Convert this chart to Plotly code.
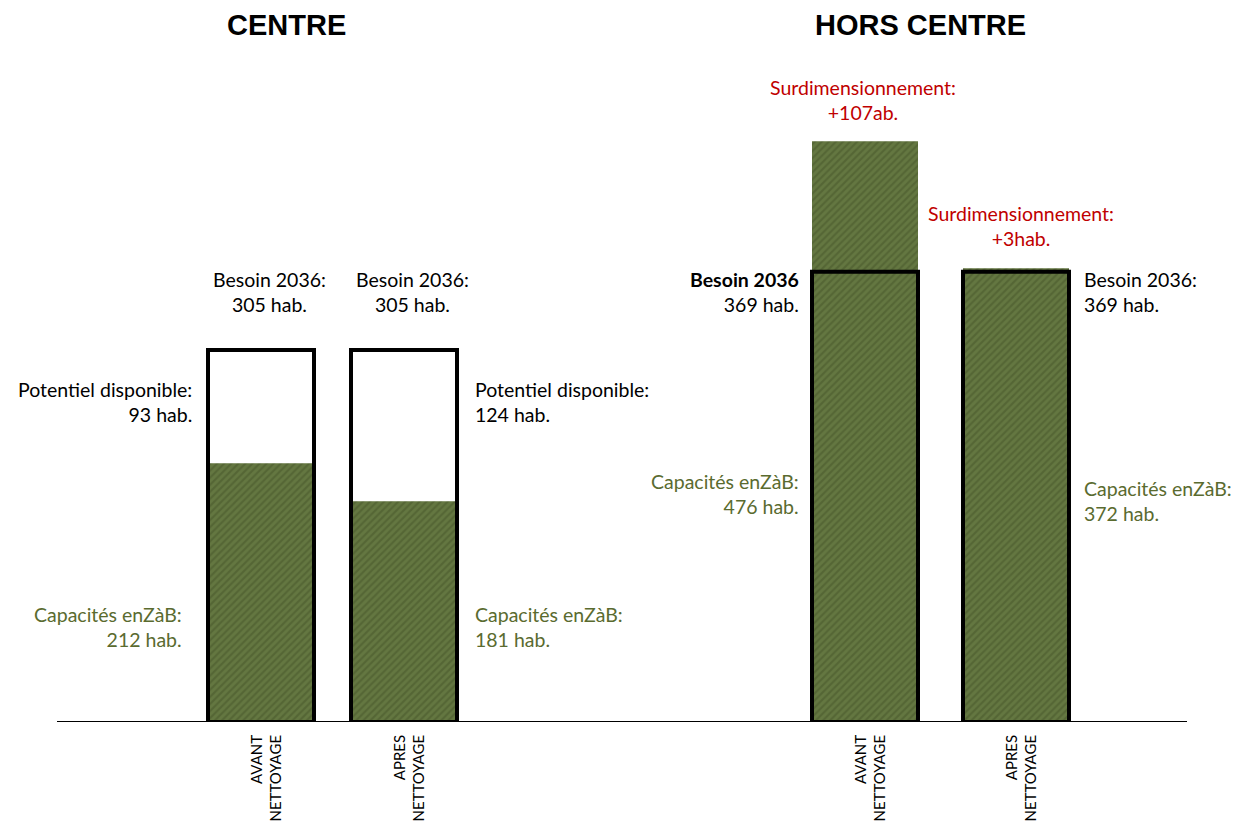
import plotly.graph_objects as go

# ---- data ----
categories = ["AVANT<br>NETTOYAGE", "APRES<br>NETTOYAGE", "AVANT<br>NETTOYAGE", "APRES<br>NETTOYAGE"]
groups = ["CENTRE", "CENTRE", "HORS CENTRE", "HORS CENTRE"]
capacites = [212, 181, 476, 372]
besoin = [305, 305, 369, 369]
potentiel = [93, 124]          # centre: besoin - capacités
surdim = [107, 3]              # hors centre: capacités - besoin

# ---- layout constants (pixel-like x scale, 1 unit = 1 px of the page) ----
W, H = 1242, 822
OFF = 8                # page body margin
x_pos = [261, 404, 865, 1016]
bar_w = 106
axis_px = 722          # page pixel row of the baseline
px_per_unit = 1.22
y_top = (axis_px - OFF) / px_per_unit

def yd(p):
    """page pixel row -> data y"""
    return (axis_px - p) / px_per_unit

GREEN_TXT = "#5a6b2f"
RED = "#c00000"
FONT = "Lato"
FS = 19.5

fig = go.Figure()
fig.add_trace(go.Bar(
    x=x_pos, y=capacites, width=bar_w,
    marker=dict(color="#627540",
                pattern=dict(shape="/", fgcolor="#46562a", bgcolor="#647741",
                             size=5, solidity=0.45),
                line=dict(width=0)),
    hoverinfo="skip", showlegend=False))
fig.add_trace(go.Bar(
    x=x_pos, y=besoin, width=bar_w,
    marker=dict(color="rgba(0,0,0,0)", line=dict(color="black", width=4)),
    hoverinfo="skip", showlegend=False))

fig.add_shape(type="line", xref="x", yref="y", x0=57, x1=1187, y0=0, y1=0,
              line=dict(color="black", width=2))

ann = []
def add(text, x, p, xanchor="center", align="center", color="black", size=FS):
    ann.append(dict(text=text, x=x, y=yd(p), xref="x", yref="y",
                    xanchor=xanchor, yanchor="middle", align=align,
                    showarrow=False, font=dict(family=FONT, size=size, color=color)))

# titles
ann.append(dict(text="<b>CENTRE</b>", x=286, y=yd(25), xref="x", yref="y",
                showarrow=False, font=dict(family="Liberation Sans", size=29, color="black")))
ann.append(dict(text="<b>HORS CENTRE</b>", x=920, y=yd(25), xref="x", yref="y",
                showarrow=False, font=dict(family="Liberation Sans", size=29, color="black")))

# centre labels
add(f"Besoin 2036:<br>{besoin[0]} hab.", 269, 292)
add(f"Besoin 2036:<br>{besoin[1]} hab.", 412, 292)
add(f"Potentiel disponible:<br>{potentiel[0]} hab.", 194, 402, xanchor="right", align="right")
add(f"Potentiel disponible:<br>{potentiel[1]} hab.", 473, 402, xanchor="left", align="left")
add(f"Capacités enZàB:<br>{capacites[0]} hab.", 184, 627, xanchor="right", align="right", color=GREEN_TXT)
add(f"Capacités enZàB:<br>{capacites[1]} hab.", 473, 627, xanchor="left", align="left", color=GREEN_TXT)

# hors centre labels
add(f"Surdimensionnement:<br>+{surdim[0]}ab.", 863, 100, color=RED)
add(f"Surdimensionnement:<br>+{surdim[1]}hab.", 1021, 226, color=RED)
add(f"<b>Besoin 2036</b><br>{besoin[2]} hab.", 801, 292, xanchor="right", align="right")
add(f"Besoin 2036:<br>{besoin[3]} hab.", 1082, 292, xanchor="left", align="left")
add(f"Capacités enZàB:<br>{capacites[2]} hab.", 801, 494, xanchor="right", align="right", color=GREEN_TXT)
add(f"Capacités enZàB:<br>{capacites[3]} hab.", 1082, 501, xanchor="left", align="left", color=GREEN_TXT)

# rotated category labels
for xp, cat in zip(x_pos, categories):
    ann.append(dict(text=cat, x=xp + 4, y=0, xref="x", yref="y",
                    xanchor="center", yanchor="top", yshift=-11, textangle=-90,
                    align="right", showarrow=False,
                    font=dict(family=FONT, size=15, color="black")))

fig.update_layout(
    width=W, height=H,
    margin=dict(l=0, r=0, t=0, b=H - (axis_px - OFF)),
    barmode="overlay",
    plot_bgcolor="white", paper_bgcolor="white",
    xaxis=dict(range=[OFF, W + OFF], visible=False, fixedrange=True),
    yaxis=dict(range=[0, y_top], visible=False, fixedrange=True),
    annotations=ann,
)

fig.write_html("out.html", config={"displayModeBar": False})
